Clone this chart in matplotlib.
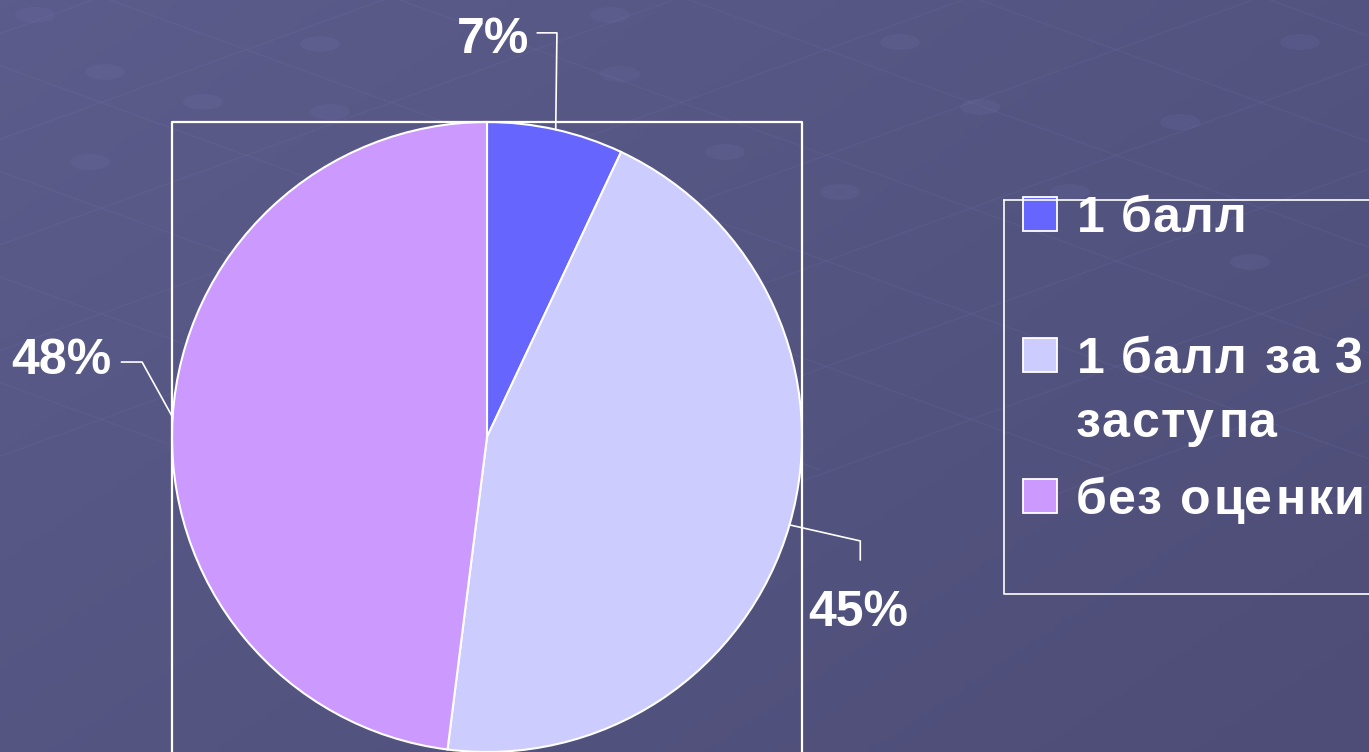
import numpy as np
import matplotlib
matplotlib.use('Agg')
from matplotlib import pyplot as plt
from matplotlib.patches import Rectangle, Ellipse
from matplotlib import font_manager, ft2font

plt.rcParams['font.family'] = ['Liberation Sans', 'DejaVu Sans']

labels = ['1 балл', '1 балл за 3\nзаступа', 'без оценки']
values = [7, 45, 48]
pct_labels = ['7%', '45%', '48%']
colors = ['#6666FF', '#CCCCFF', '#CC99FF']

W, H = 1369, 752
fig = plt.figure(figsize=(W / 100, H / 100), dpi=100)

# фон: градиент + бледная "сетка" как на шаблоне слайда
bg = fig.add_axes([0, 0, 1, 1])
yy, xx = np.mgrid[0:1:200j, 0:1:200j]
grad = 0.55 * xx + 0.45 * yy
bg.imshow(grad, cmap=matplotlib.colors.LinearSegmentedColormap.from_list(
    'bg', ['#5c5c8c', '#4d4d77']), extent=[0, W, 0, H], aspect='auto', origin='upper')
for k in range(-6, 10):
    x0 = k * 290
    bg.plot([x0, x0 + 1400], [H + 40, H - 470], color='#7070a8', lw=1, alpha=0.2)
    bg.plot([x0 - 700, x0 + 700], [H - 500, H + 10], color='#7070a8', lw=1, alpha=0.2)
for cx, cy in [(35, 737), (320, 708), (610, 737), (900, 710), (105, 680), (203, 650),
               (620, 678), (725, 600), (330, 640), (980, 645), (1180, 630), (1300, 710),
               (90, 590), (840, 560), (1070, 560), (1250, 490)]:
    bg.add_patch(Ellipse((cx, cy), 40, 16, color='#6a6aa0', alpha=0.25, lw=0))
bg.set_xlim(0, W)
bg.set_ylim(0, H)
bg.axis('off')

# рамка области диаграммы
fig.add_artist(plt.Line2D([172 / W, 172 / W, 802 / W, 802 / W],
                          [0, 1 - 122 / H, 1 - 122 / H, 0],
                          color='white', lw=1.6))

ax = fig.add_axes([172 / W, 0, 630 / W, 630 / H])
wedges, _ = ax.pie(values, colors=colors, startangle=90, counterclock=False,
                   wedgeprops=dict(edgecolor='white', linewidth=1.5))
ax.set_xlim(-1, 1)
ax.set_ylim(-1, 1)
ax.set_aspect('equal')
ax.axis('off')

# подписи с выносками
text_pos = [(0.02, 1.26), (1.18, -0.56), (-1.35, 0.24)]
elbows = [[(0.16, 1.283), (0.222, 1.283)],
          [(1.185, -0.33), (1.185, -0.39)],
          [(-1.16, 0.238), (-1.095, 0.238)]]
for w, t, pos, elb in zip(wedges, pct_labels, text_pos, elbows):
    ang = np.deg2rad((w.theta1 + w.theta2) / 2)
    px, py = np.cos(ang), np.sin(ang)
    if t == '45%':
        pts = [(px, py), elb[0], elb[1]]
    else:
        pts = [elb[0], elb[1], (px, py)]
    ax.plot([p[0] for p in pts], [p[1] for p in pts], color='white', lw=1.2,
            clip_on=False)
    ax.text(pos[0], pos[1], t, color='white', fontsize=36, fontweight='bold',
            ha='center', va='center', clip_on=False)

# легенда (текст с небольшой разрядкой, как в PowerPoint)
lx0, ly_top, ly_bot = 1004, 200, 594
fig.add_artist(plt.Line2D([lx0 / W, lx0 / W, 1.0], [1 - ly_top / H, 1 - ly_bot / H, 1 - ly_bot / H],
                          color='white', lw=1.2))
fig.add_artist(plt.Line2D([lx0 / W, 1.0], [1 - ly_top / H, 1 - ly_top / H],
                          color='white', lw=1.2))

leg_size = 36
fpath = font_manager.findfont(font_manager.FontProperties(family='Liberation Sans', weight='bold'))
ft = ft2font.FT2Font(fpath)
ft.set_size(leg_size, 100)
tracking = 1.6


def spaced_text(x, base, s):
    for ch in s:
        g = ft.load_char(ord(ch))
        if ch != ' ':
            fig.text((x + g.horiBearingX / 64) / W, 1 - base / H, ch, color='white',
                     fontsize=leg_size, fontweight='bold', ha='left', va='baseline')
        x += g.linearHoriAdvance / 65536 + tracking


leg_top = [197, 338, 479]
line_gap = 64
for lab, c, y in zip(labels, colors, leg_top):
    fig.add_artist(Rectangle((1023 / W, 1 - (y + 34) / H), 34 / W, 34 / H,
                             facecolor=c, edgecolor='white', lw=1.3))
    for i, line in enumerate(lab.split('\n')):
        spaced_text(1074, y + 35 + i * line_gap, line)

fig.savefig('out.png', dpi=100)
